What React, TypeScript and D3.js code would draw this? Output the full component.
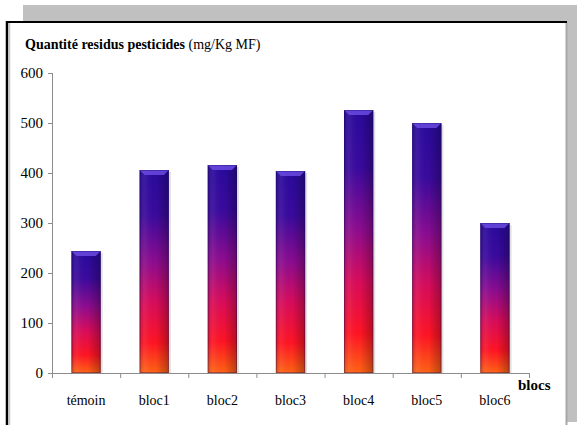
import React from 'react';
import * as d3 from 'd3';

const categories = ['témoin', 'bloc1', 'bloc2', 'bloc3', 'bloc4', 'bloc5', 'bloc6'];
const values = [244, 406, 416, 404, 526, 500, 300];
const yTicks = [0, 100, 200, 300, 400, 500, 600];

const W = 577;
const H = 425;
const font = '"Liberation Serif", "Times New Roman", serif';

const App = () => {
  const x = d3.scaleBand().domain(categories).range([52, 529]).paddingInner(0.57).paddingOuter(0.285);
  const xb = d3.scaleBand().domain(categories).range([52, 529]); // category boundaries for ticks
  const y = d3.scaleLinear().domain([0, 600]).range([373, 73]);
  const axisColor = '#8c8c8c';

  return (
    <svg width={W} height={H} style={{ position: 'absolute', left: 0, top: 0, background: '#fff' }}>
      <defs>
        <linearGradient id="barGrad" x1="0" y1="0" x2="0" y2="1">
          <stop offset="0" stopColor="#2a0a9c" />
          <stop offset="0.22" stopColor="#3a0a9e" />
          <stop offset="0.45" stopColor="#8c0c90" />
          <stop offset="0.65" stopColor="#d80c5c" />
          <stop offset="0.85" stopColor="#ff1424" />
          <stop offset="1" stopColor="#ff6414" />
        </linearGradient>
        <linearGradient id="barShade" x1="0" y1="0" x2="1" y2="0">
          <stop offset="0" stopColor="#000" stopOpacity="0.18" />
          <stop offset="0.2" stopColor="#fff" stopOpacity="0.06" />
          <stop offset="0.55" stopColor="#000" stopOpacity="0" />
          <stop offset="1" stopColor="#000" stopOpacity="0.28" />
        </linearGradient>
      </defs>

      {/* frame and shadow */}
      <rect x={23} y={5} width={W - 23} height={417} fill="#c0c0c0" />
      <rect x={6} y={21} width={560} height={H - 21} fill="#fff" />
      <line x1={566.5} y1={22} x2={566.5} y2={H} stroke="#a8a8a8" strokeWidth={2} />
      <line x1={6} y1={22} x2={567} y2={22} stroke="#000" strokeWidth={2} />
      <line x1={7} y1={21} x2={7} y2={H} stroke="#000" strokeWidth={2.5} />
      <line x1={9.5} y1={23} x2={9.5} y2={H} stroke="#c8c8c8" strokeWidth={1.5} />

      {/* title */}
      <text x={25} y={49} fontFamily={font} fontSize={14} fill="#000">
        <tspan fontWeight="bold">Quantité residus pesticides</tspan>
        <tspan> (mg/Kg MF)</tspan>
      </text>

      {/* y axis */}
      <line x1={52.5} y1={y(600)} x2={52.5} y2={y(0)} stroke={axisColor} />
      {yTicks.map(t => (
        <g key={t}>
          <line x1={48} x2={52.5} y1={y(t) + 0.5} y2={y(t) + 0.5} stroke={axisColor} />
          <text x={43} y={y(t) + 5} textAnchor="end" fontFamily={font} fontSize={15} fill="#000">{t}</text>
        </g>
      ))}

      {/* bars */}
      {categories.map((c, i) => {
        const bx = x(c)!;
        const bw = x.bandwidth();
        const top = y(values[i]);
        const h = y(0) - top;
        const bev = 5;
        return (
          <g key={c}>
            <rect x={bx + 2} y={top + 2} width={bw} height={h - 2} fill="#000" opacity={0.12} />
            <rect x={bx} y={top} width={bw} height={h} fill="url(#barGrad)" />
            <rect x={bx} y={top} width={bw} height={h} fill="url(#barShade)" />
            <polygon
              points={`${bx},${top} ${bx + bw},${top} ${bx + bw - bev},${top + bev} ${bx + bev},${top + bev}`}
              fill="#6a4ae0"
              opacity={0.85}
            />
            <rect x={bx + 0.5} y={top + 0.5} width={bw - 1} height={h - 1} fill="none" stroke="#1a0860" strokeOpacity={0.35} />
          </g>
        );
      })}

      {/* x axis */}
      <line x1={48} y1={y(0) + 0.5} x2={529} y2={y(0) + 0.5} stroke={axisColor} />
      {[...categories.map(c => xb(c)!), 529].map((v, i) => (
        <line key={i} x1={v + 0.5} x2={v + 0.5} y1={y(0)} y2={y(0) + 5} stroke={axisColor} />
      ))}
      {categories.map(c => (
        <text key={c} x={xb(c)! + xb.bandwidth() / 2} y={405} textAnchor="middle" fontFamily={font} fontSize={14} fill="#000">
          {c}
        </text>
      ))}
      <text x={518} y={390} fontFamily={font} fontSize={15} fontWeight="bold" fill="#000">blocs</text>
    </svg>
  );
};

export default App;
